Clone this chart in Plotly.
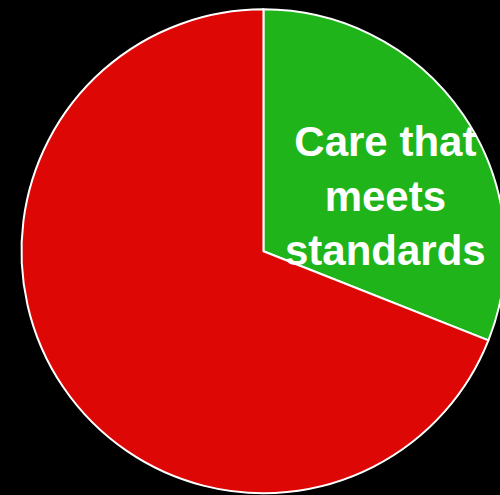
import plotly.graph_objects as go

labels = ["Care that meets standards", "Care that does not meet standards"]
values = [31, 69]
colors = ["#1fb51a", "#dd0806"]
label_text = "Care that<br>meets<br>standards"

W, H = 527, 503

fig = go.Figure(go.Pie(
    labels=labels,
    values=values,
    sort=False,
    direction="clockwise",
    rotation=0,
    marker=dict(colors=colors, line=dict(color="white", width=2)),
    textinfo="none",
    hoverinfo="label+percent",
    domain=dict(x=[0.0408, 0.959], y=[0.0193, 0.9815]),
    showlegend=False,
))

fig.add_annotation(
    text=label_text,
    x=385 / W, y=1 - 196 / H,
    xref="paper", yref="paper",
    xanchor="center", yanchor="middle",
    showarrow=False,
    font=dict(family="Liberation Sans, Arial, sans-serif", size=42, color="white", weight="bold"),
)

fig.update_layout(
    width=W, height=H,
    margin=dict(l=0, r=0, t=0, b=0),
    paper_bgcolor="black",
    plot_bgcolor="black",
    autosize=False,
)

fig.write_html(
    "out.html",
    config={"displayModeBar": False},
    post_script="document.body.style.margin='0';document.body.style.overflow='hidden';document.body.style.background='black';",
)
